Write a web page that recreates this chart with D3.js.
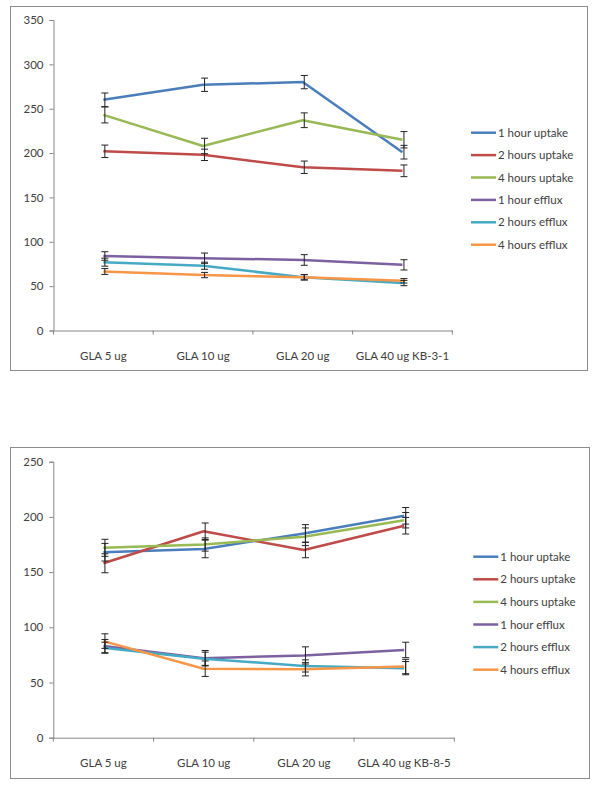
<!DOCTYPE html>
<html><head><meta charset="utf-8">
<script src="https://cdn.jsdelivr.net/npm/d3@7"></script>
<style>body{margin:0;background:#fff}svg{display:block}text{font-family:Lato,"Open Sans",sans-serif;fill:#404040}</style>
</head><body><svg id="c" width="600" height="787"></svg>
<script>
const categories1 = ["GLA 5 ug","GLA 10 ug","GLA 20 ug","GLA 40 ug KB-3-1"];
const categories2 = ["GLA 5 ug","GLA 10 ug","GLA 20 ug","GLA 40 ug KB-8-5"];
const seriesNames = ["1 hour uptake","2 hours uptake","4 hours uptake","1 hour efflux","2 hours efflux","4 hours efflux"];
const seriesColors = ["#4A7EBB","#BE4B48","#98B954","#7D60A0","#46AAC5","#F79646"];
const yTicks1 = [0,50,100,150,200,250,300,350];
const yTicks2 = [0,50,100,150,200,250];
// KB-3-1 chart values and error (+/-)
const uptake1h_A = [260,277,280,201];   const err_uptake1h_A = [7.7,7.5,7.5,7.7];
const uptake2h_A = [202,198,184,180];   const err_uptake2h_A = [7,6.4,7,6.6];
const uptake4h_A = [243,208,237,215];   const err_uptake4h_A = [9,8.7,8.3,9.2];
const efflux1h_A = [84,81.5,79.5,74];   const err_efflux1h_A = [4.8,5.8,6,5.8];
const efflux2h_A = [77,73,60,53.5];     const err_efflux2h_A = [4.5,4,3,3];
const efflux4h_A = [66.5,62.5,60,56];   const err_efflux4h_A = [3.3,3,3,2.5];
// KB-8-5 chart values and error (+/-)
const uptake1h_B = [168,171,185,201];   const err_uptake1h_B = [8,8,8,7.5];
const uptake2h_B = [158,187,170,192];   const err_uptake2h_B = [8.6,7.5,7,7.5];
const uptake4h_B = [172,175,182,197];   const err_uptake4h_B = [7.7,6,8,7];
const efflux1h_B = [83,72,74.5,79.5];   const err_efflux1h_B = [6,7,7.8,7];
const efflux2h_B = [81.5,71.5,65,63];   const err_efflux2h_B = [5,6,5.5,6];
const efflux4h_B = [87.5,62.5,62,64.5]; const err_efflux4h_B = [6.6,7,6,6.5];

const svg = d3.select("#c");

function drawChart(cfg){
  const g = svg.append("g");
  g.append("rect").attr("x",cfg.box[0]+0.5).attr("y",cfg.box[1]+0.5)
    .attr("width",cfg.box[2]-cfg.box[0]).attr("height",cfg.box[3]-cfg.box[1])
    .attr("fill","#fff").attr("stroke","#8c8c8c").attr("stroke-width",1);
  const x = d3.scaleBand().domain(cfg.categories).range([cfg.x0,cfg.x1]);
  const y = d3.scaleLinear().domain([0,cfg.ymax]).range([cfg.y0,cfg.y1]);
  // y axis
  const ya = g.append("g").attr("transform",`translate(${cfg.x0},0)`)
    .call(d3.axisLeft(y).tickValues(cfg.yTicks).tickSize(4).tickPadding(6).tickFormat(d3.format("d")));
  ya.select(".domain").attr("stroke","#868686");
  ya.selectAll(".tick line").attr("stroke","#868686");
  ya.selectAll("text").attr("font-size",11.5).style("font-family","Lato,'Open Sans',sans-serif").attr("fill","#404040");
  // x axis
  const xa = g.append("g").attr("transform",`translate(0,${cfg.y0})`)
    .call(d3.axisBottom(x).tickSize(0).tickPadding(21));
  xa.select(".domain").attr("stroke","#868686");
  xa.selectAll("text").attr("font-size",11.5).style("font-family","Lato,'Open Sans',sans-serif").attr("fill","#404040");
  const bounds = cfg.categories.map(c=>x(c)).concat([cfg.x1]);
  xa.selectAll(".bt").data(bounds).enter().append("line")
    .attr("x1",d=>d).attr("x2",d=>d).attr("y1",0).attr("y2",4).attr("stroke","#868686");
  const line = d3.line().x((d,i)=>x(cfg.categories[i])+x.bandwidth()/2).y(d=>y(d));
  // lines
  cfg.series.forEach((s,k)=>{
    g.append("path").datum(s.v).attr("d",line).attr("fill","none")
      .attr("stroke",seriesColors[k]).attr("stroke-width",2.5).attr("stroke-linejoin","round");
  });
  // error bars
  cfg.series.forEach((s,k)=>{
    s.v.forEach((v,i)=>{
      const cx = x(cfg.categories[i])+x.bandwidth()/2 + 1.5;
      const e = s.e[i];
      const eg = g.append("g").attr("stroke","#222").attr("stroke-width",1);
      eg.append("line").attr("x1",cx).attr("x2",cx).attr("y1",y(v+e)).attr("y2",y(v-e));
      eg.append("line").attr("x1",cx-3.5).attr("x2",cx+3.5).attr("y1",y(v+e)).attr("y2",y(v+e));
      eg.append("line").attr("x1",cx-3.5).attr("x2",cx+3.5).attr("y1",y(v-e)).attr("y2",y(v-e));
    });
  });
  // legend
  seriesNames.forEach((n,k)=>{
    const ly = cfg.legY + k*cfg.legStep;
    g.append("line").attr("x1",cfg.legX).attr("x2",cfg.legX+25).attr("y1",ly).attr("y2",ly)
      .attr("stroke",seriesColors[k]).attr("stroke-width",2.5);
    g.append("text").attr("x",cfg.legX+27).attr("y",ly+4).attr("font-size",11.5).text(n);
  });
}

drawChart({
  box:[10,6,587,370], categories:categories1, x0:53.5, x1:452.3, y0:330.5, y1:20, ymax:350, yTicks:yTicks1,
  series:[{v:uptake1h_A,e:err_uptake1h_A},{v:uptake2h_A,e:err_uptake2h_A},{v:uptake4h_A,e:err_uptake4h_A},
          {v:efflux1h_A,e:err_efflux1h_A},{v:efflux2h_A,e:err_efflux2h_A},{v:efflux4h_A,e:err_efflux4h_A}],
  legX:471, legY:132.7, legStep:22.4
});
drawChart({
  box:[10,447,589,778], categories:categories2, x0:53.3, x1:454.3, y0:737.7, y1:461.7, ymax:250, yTicks:yTicks2,
  series:[{v:uptake1h_B,e:err_uptake1h_B},{v:uptake2h_B,e:err_uptake2h_B},{v:uptake4h_B,e:err_uptake4h_B},
          {v:efflux1h_B,e:err_efflux1h_B},{v:efflux2h_B,e:err_efflux2h_B},{v:efflux4h_B,e:err_efflux4h_B}],
  legX:473.3, legY:556.7, legStep:22.6
});
</script></body></html>
